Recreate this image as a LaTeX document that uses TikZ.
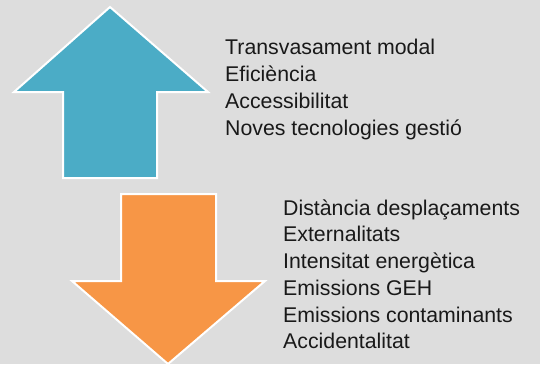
\documentclass[tikz,border=0pt]{standalone}
\usepackage{fontspec}
\setmainfont{Liberation Sans}
\definecolor{bg}{HTML}{DDDDDD}
\definecolor{upblue}{HTML}{4BACC6}
\definecolor{downorange}{HTML}{F79646}
\tikzset{
  arrowshape/.style={draw=white, line width=2pt, line join=miter},
  item/.style={anchor=base west, inner sep=0pt, font=\fontsize{21.3}{25}\selectfont, text=black!90}
}
\begin{document}
\begin{tikzpicture}[x=1pt,y=-1pt]
\fill[bg] (0,0) rectangle (540,364);
\useasboundingbox (0,0) rectangle (540,364);
% up arrow
\filldraw[arrowshape, fill=upblue] (110,7) -- (208,92) -- (157,92) -- (157,178) -- (63,178) -- (63,92) -- (14,92) -- cycle;
% down arrow
\filldraw[arrowshape, fill=downorange] (121,194) -- (216,194) -- (216,281) -- (265,281) -- (168,364) -- (72,281) -- (121,281) -- cycle;
% upper list
\node[item] (u1) at (225,54.3) {Transvasament modal};
\node[item] (u2) at (225,81.3) {Eficiència};
\node[item] (u3) at (225,108.2) {Accessibilitat};
\node[item] (u4) at (225,135) {Noves tecnologies gestió};
% lower list
\node[item] (d1) at (283,215.2) {Distància desplaçaments};
\node[item] (d2) at (283,241.9) {Externalitats};
\node[item] (d3) at (283,268.6) {Intensitat energètica};
\node[item] (d4) at (283,295.3) {Emissions GEH};
\node[item] (d5) at (283,322) {Emissions contaminants};
\node[item] (d6) at (283,348.5) {Accidentalitat};
\end{tikzpicture}
\end{document}
